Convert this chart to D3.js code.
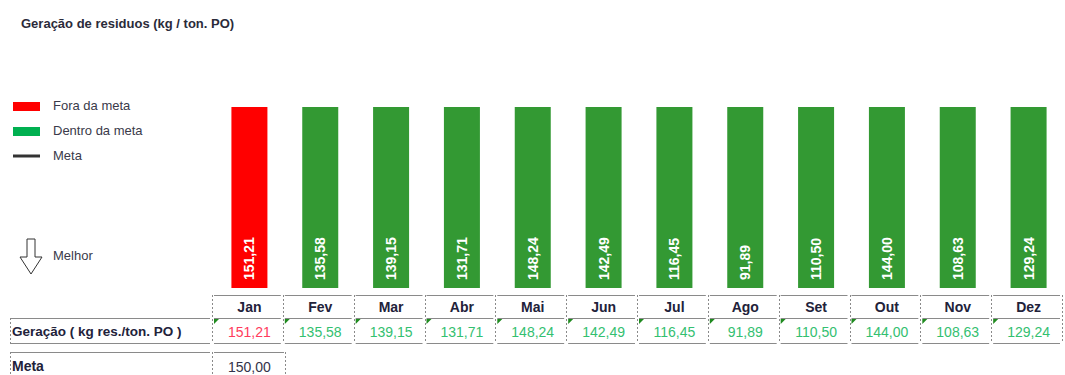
<!DOCTYPE html>
<html>
<head>
<meta charset="utf-8">
<script src="https://cdn.jsdelivr.net/npm/d3@7/dist/d3.min.js"></script>
<style>
  html, body { margin: 0; padding: 0; background: #fff; }
  svg { display: block; }
</style>
</head>
<body>
<svg id="chart" width="1065" height="375"></svg>
<script>
// Monthly waste generation (kg / ton. PO) against the target
const months = ["Jan", "Fev", "Mar", "Abr", "Mai", "Jun", "Jul", "Ago", "Set", "Out", "Nov", "Dez"];
const geracao = [151.21, 135.58, 139.15, 131.71, 148.24, 142.49, 116.45, 91.89, 110.50, 144.00, 108.63, 129.24];
const meta = 150.00;
const axisMax = 90; // value axis tops out here, so taller bars are cut at the plot edge

const legendItems = [
  { label: "Fora da meta", kind: "rect", color: "#ff0000" },
  { label: "Dentro da meta", kind: "rect", color: "#00b050" },
  { label: "Meta", kind: "line", color: "#333333" }
];

const fmt = v => v.toFixed(2).replace(".", ",");
const RED = "#ff0000", GREEN = "#339933";
const barColor = v => v > meta ? RED : GREEN;
const textColor = v => v > meta ? "#ff3b5c" : "#33c070";

const svg = d3.select("#chart");
const NARROW = '"Liberation Sans Narrow", "Arial Narrow", "Liberation Sans", sans-serif';

// Title
svg.append("text")
  .attr("x", 21).attr("y", 28)
  .attr("font-family", NARROW).attr("font-size", 13).attr("font-weight", "bold")
  .attr("fill", "#2b2b3a")
  .text("Geração de residuos (kg / ton. PO)");

// Scales
const x = d3.scaleBand().domain(months).range([212, 1062]).paddingInner(0).paddingOuter(0);
const plotTop = 107, plotBottom = 288;
const y = d3.scaleLinear().domain([0, axisMax]).range([plotBottom, plotTop]).clamp(true);
const barW = 36;

// Bars
const bars = svg.append("g");
bars.selectAll("rect").data(geracao).join("rect")
  .attr("x", (d, i) => x(months[i]) + x.bandwidth() / 2 - barW / 2 + 2)
  .attr("y", d => y(d))
  .attr("width", barW)
  .attr("height", d => y(0) - y(d))
  .attr("fill", d => barColor(d));

// Rotated value labels inside bars
bars.selectAll("text").data(geracao).join("text")
  .attr("transform", (d, i) => {
    const cx = x(months[i]) + x.bandwidth() / 2 + 2;
    return `translate(${cx + 5},${plotBottom - 8}) rotate(-90)`;
  })
  .attr("text-anchor", "start")
  .attr("font-family", "Liberation Sans, Arial, sans-serif")
  .attr("font-size", 14).attr("font-weight", "bold")
  .attr("fill", "#ffffff")
  .text(d => fmt(d));

// Legend
const lg = svg.append("g");
legendItems.forEach((it, i) => {
  const cy = 106 + i * 25;
  if (it.kind === "rect") {
    lg.append("rect").attr("x", 13).attr("y", cy - 4).attr("width", 27).attr("height", 9).attr("fill", it.color);
  } else {
    lg.append("line").attr("x1", 13).attr("x2", 40).attr("y1", cy).attr("y2", cy)
      .attr("stroke", it.color).attr("stroke-width", 3);
  }
  lg.append("text").attr("x", 53).attr("y", cy + 4)
    .attr("font-family", NARROW).attr("font-size", 13).attr("fill", "#3a3a4a")
    .text(it.label);
});

// "Better" direction arrow
const arrow = svg.append("g");
arrow.append("path")
  .attr("d", "M27,239 L35,239 L35,257 L42,257 L31,274 L20,257 L27,257 Z")
  .attr("fill", "#fff").attr("stroke", "#333").attr("stroke-width", 1);
arrow.append("text").attr("x", 53).attr("y", 260)
  .attr("font-family", NARROW).attr("font-size", 13).attr("fill", "#3a3a4a")
  .text("Melhor");

// Data table below the chart
const tbl = svg.append("g");
const hTop = 295, r1Top = 318, r1Bot = 343, r2Top = 352, r2Bot = 380;
const gridColor = "#8a8a8a";

function hLine(x1, x2, yy) {
  tbl.append("line").attr("x1", x1).attr("x2", x2).attr("y1", yy).attr("y2", yy)
    .attr("stroke", gridColor).attr("stroke-width", 1);
}
function vDash(xx, y1, y2) {
  tbl.append("line").attr("x1", xx).attr("x2", xx).attr("y1", y1).attr("y2", y2)
    .attr("stroke", gridColor).attr("stroke-width", 1).attr("stroke-dasharray", "2,2");
}

// horizontal rules (with small gaps at column joints)
months.forEach(m => {
  const x0 = x(m), x1 = x(m) + x.bandwidth();
  hLine(x0 + 2, x1 - 2, hTop + 0.5);
  hLine(x0 + 2, x1 - 2, r1Top + 0.5);
  hLine(x0 + 2, x1 - 2, r1Bot + 0.5);
});
hLine(10, 210, r1Top + 0.5);
hLine(10, 210, r1Bot + 0.5);
hLine(10, 210, r2Top + 0.5);
hLine(214, 284, r2Top + 0.5);

// vertical dashed dividers
const bounds = months.map(m => x(m)).concat([x(months[11]) + x.bandwidth()]);
bounds.forEach(b => vDash(Math.round(b) + 0.5, hTop, r1Bot));
vDash(10.5, r1Top, r1Bot);
vDash(10.5, r2Top, r2Bot);
vDash(212.5, r2Top, r2Bot);
vDash(285.5, r2Top, r2Bot);

// month header
tbl.selectAll("text.month").data(months).join("text")
  .attr("class", "month")
  .attr("x", d => x(d) + x.bandwidth() / 2 + 2)
  .attr("y", 312)
  .attr("text-anchor", "middle")
  .attr("font-family", NARROW).attr("font-size", 14).attr("font-weight", "bold")
  .attr("fill", "#22223a")
  .text(d => d);

// row labels
tbl.append("text").attr("x", 12).attr("y", 336)
  .attr("font-family", NARROW).attr("font-size", 13.5).attr("font-weight", "bold")
  .attr("fill", "#22223a").text("Geração ( kg res./ton. PO )");
tbl.append("text").attr("x", 12).attr("y", 371)
  .attr("font-family", NARROW).attr("font-size", 14).attr("font-weight", "bold")
  .attr("fill", "#22223a").text("Meta");

// generation values with cell marker
geracao.forEach((v, i) => {
  const x0 = x(months[i]);
  tbl.append("path")
    .attr("d", `M${x0 + 2},${r1Top + 1} L${x0 + 7},${r1Top + 1} L${x0 + 2},${r1Top + 6} Z`)
    .attr("fill", "#1f8a1f");
  tbl.append("text")
    .attr("x", x0 + x.bandwidth() / 2 + 2).attr("y", 337)
    .attr("text-anchor", "middle")
    .attr("font-family", NARROW).attr("font-size", 14)
    .attr("fill", textColor(v))
    .text(fmt(v));
});

// target value
tbl.append("text")
  .attr("x", x(months[0]) + x.bandwidth() / 2 + 2).attr("y", 372)
  .attr("text-anchor", "middle")
  .attr("font-family", NARROW).attr("font-size", 14)
  .attr("fill", "#33334a")
  .text(fmt(meta));
</script>
</body>
</html>
